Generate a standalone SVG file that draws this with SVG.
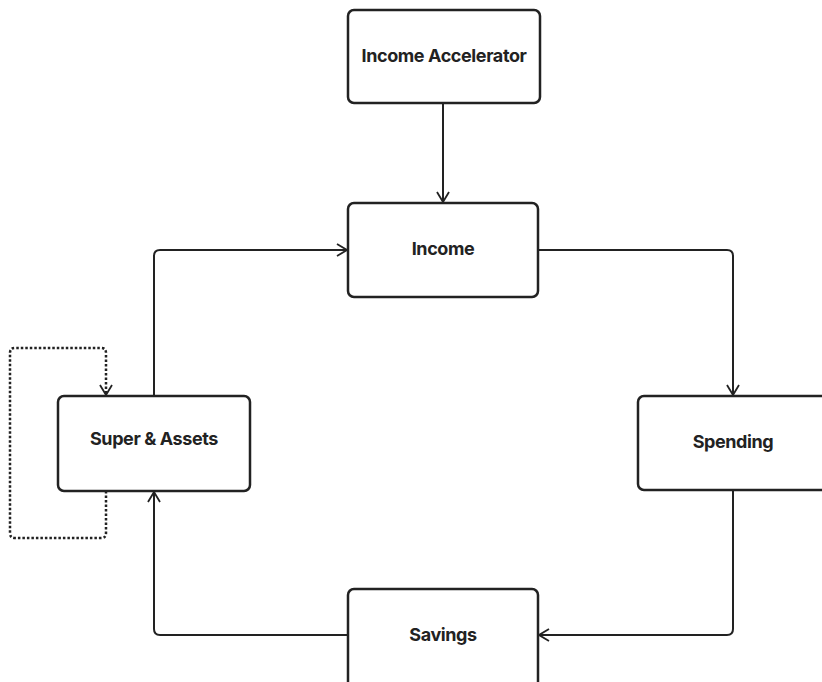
<svg xmlns="http://www.w3.org/2000/svg" width="822" height="682" viewBox="0 0 822 682">
  <style>
    .box { fill: #ffffff; stroke: #222222; stroke-width: 2.5; }
    .label { font-family: Inter, "Liberation Sans", sans-serif; font-weight: 700; font-size: 18px; fill: #222222; text-anchor: middle; dominant-baseline: central; letter-spacing: -0.4px; }
    .edge { fill: none; stroke: #222222; stroke-width: 2; stroke-linejoin: round; }
    .dotted { stroke-width: 2.5; stroke-dasharray: 2.5 2; }
  </style>
  <defs>
    <marker id="arrow" viewBox="0 0 12 14" refX="11" refY="7" markerWidth="12" markerHeight="14" markerUnits="userSpaceOnUse" orient="auto">
      <path d="M1 1 L11 7 L1 13" fill="none" stroke="#222222" stroke-width="1.8"/>
    </marker>
  </defs>
  <rect width="822" height="682" fill="#ffffff"/>

  <g id="connectors">
    <path class="edge" d="M443 104 V202" marker-end="url(#arrow)"/>
    <path class="edge" d="M538 250 H727 Q733 250 733 256 V395" marker-end="url(#arrow)"/>
    <path class="edge" d="M733 491 V629 Q733 635 727 635 H539" marker-end="url(#arrow)"/>
    <path class="edge" d="M348 635 H160 Q154 635 154 629 V492" marker-end="url(#arrow)"/>
    <path class="edge" d="M154 396 V256 Q154 250 160 250 H347" marker-end="url(#arrow)"/>
    <path class="edge dotted" d="M106 491 V533 Q106 538 101 538 H15 Q10 538 10 533 V353 Q10 348 15 348 H101 Q106 348 106 353 V395" marker-end="url(#arrow)"/>
  </g>

  <g id="income-accelerator">
    <rect class="box" x="348" y="10" width="192" height="93" rx="6"/>
    <text class="label" x="444" y="55">Income Accelerator</text>
  </g>
  <g id="income">
    <rect class="box" x="348" y="203" width="190" height="94" rx="6"/>
    <text class="label" x="443" y="248">Income</text>
  </g>
  <g id="spending">
    <rect class="box" x="638" y="396" width="192" height="94" rx="6"/>
    <text class="label" x="733" y="441">Spending</text>
  </g>
  <g id="savings">
    <rect class="box" x="348" y="589" width="190" height="100" rx="6"/>
    <text class="label" x="443" y="634">Savings</text>
  </g>
  <g id="super-assets">
    <rect class="box" x="58" y="396" width="192" height="95" rx="6"/>
    <text class="label" x="154" y="438">Super &amp; Assets</text>
  </g>
</svg>
